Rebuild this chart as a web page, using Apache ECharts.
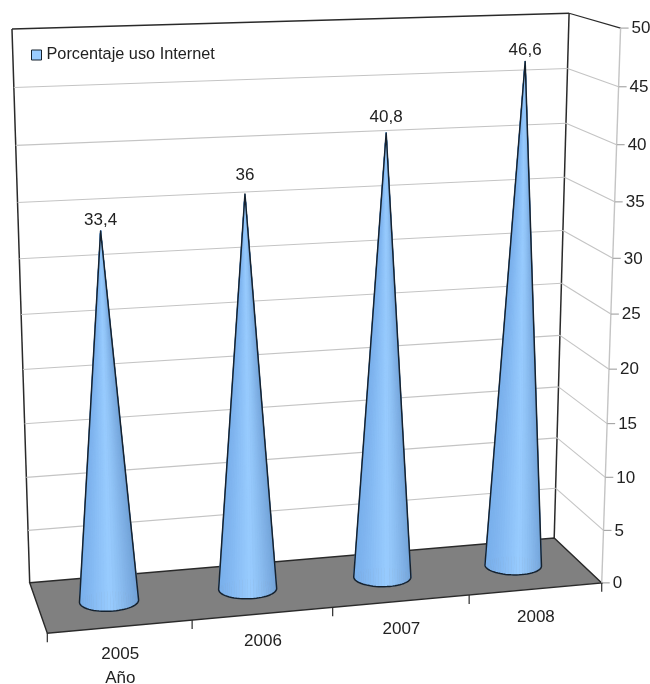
<!DOCTYPE html>
<html>
<head>
<meta charset="utf-8">
<style>html,body{margin:0;padding:0;background:#fff}#chart{width:650px;height:684px}</style>
<script src="https://cdn.jsdelivr.net/npm/echarts@6/dist/echarts.min.js"></script>
</head>
<body>
<div id="chart"></div>
<script>
const years = ['2005', '2006', '2007', '2008'];
const usage = [33.4, 36, 40.8, 46.6];
const valueTicks = [0, 5, 10, 15, 20, 25, 30, 35, 40, 45, 50];
const seriesName = 'Porcentaje uso Internet';
const axisName = 'Año';
// Lift of each value label above its cone's tip, in pixels.
const labelLift = [11, 19, 16, 11];

// Camera anchors for the 3D box: [X, Y, Z, screenX, screenY], Z = 1 is the back wall.
const anchors = [
  [0, 0, 0, 47, 633], [1, 0, 0, 602, 583], [1, 1, 0, 620, 28],
  [0, 0, 1, 30, 583], [1, 0, 1, 554, 538], [0, 1, 1, 12, 29], [1, 1, 1, 569, 13],
  [1, 0.5, 0, 611, 314], [1, 0.2, 0, 605, 477], [1, 0.8, 0, 617, 145], [1, 0.9, 0, 619, 87]
];
const SCALE = 600;

// Least-squares fit of a 3x4 projection matrix with its last entry fixed at 1.
function fitCamera(pts) {
  const rows = [], rhs = [];
  pts.forEach(([X, Y, Z, sx, sy]) => {
    const x = sx / SCALE, y = sy / SCALE;
    rows.push([X, Y, Z, 1, 0, 0, 0, 0, -x * X, -x * Y, -x * Z]); rhs.push(x);
    rows.push([0, 0, 0, 0, X, Y, Z, 1, -y * X, -y * Y, -y * Z]); rhs.push(y);
  });
  const n = 11;
  const A = [];
  for (let i = 0; i < n; i++) {
    A.push(new Array(n + 1).fill(0));
    for (let j = 0; j < n; j++) rows.forEach(r => { A[i][j] += r[i] * r[j]; });
    rows.forEach((r, k) => { A[i][n] += r[i] * rhs[k]; });
  }
  for (let c = 0; c < n; c++) {
    let piv = c;
    for (let r = c + 1; r < n; r++) if (Math.abs(A[r][c]) > Math.abs(A[piv][c])) piv = r;
    [A[c], A[piv]] = [A[piv], A[c]];
    for (let r = 0; r < n; r++) {
      if (r === c) continue;
      const f = A[r][c] / A[c][c];
      for (let k = c; k <= n; k++) A[r][k] -= f * A[c][k];
    }
  }
  return A.map((row, i) => row[n] / row[i]);
}
const cam = fitCamera(anchors);

function project(X, Y, Z) {
  const w = cam[8] * X + cam[9] * Y + cam[10] * Z + 1;
  return [
    SCALE * (cam[0] * X + cam[1] * Y + cam[2] * Z + cam[3]) / w,
    SCALE * (cam[4] * X + cam[5] * Y + cam[6] * Z + cam[7]) / w
  ];
}

// Turns a data pair into box coordinates through the chart's own axes.
function boxCoord(params, api, cat, val) {
  const p = api.coord([cat, val]);
  const cs = params.coordSys;
  return { X: (p[0] - cs.x) / cs.width, Y: 1 - (p[1] - cs.y) / cs.height };
}

const FONT = '17px "Liberation Sans", Arial, sans-serif';
const line = (a, b, stroke, lineWidth) => ({
  type: 'line', silent: true,
  shape: { x1: a[0], y1: a[1], x2: b[0], y2: b[1] },
  style: { stroke, lineWidth }
});
const text = (x, y, str, align) => ({
  type: 'text', silent: true,
  style: { x, y, text: str, fill: '#222', font: FONT, align, verticalAlign: 'middle' }
});

const GRID = '#c4c4c4', EDGE = '#2a2a2a';

function renderBox() {
  const c = {
    bl: project(0, 0, 1), br: project(1, 0, 1), tl: project(0, 1, 1), tr: project(1, 1, 1),
    fl: project(0, 0, 0), fr: project(1, 0, 0), ftr: project(1, 1, 0)
  };
  return {
    type: 'group', children: [
      { type: 'polygon', silent: true, shape: { points: [c.tl, c.tr, c.br, c.bl] }, style: { fill: '#fff' } },
      { type: 'polygon', silent: true, shape: { points: [c.bl, c.br, c.fr, c.fl] }, style: { fill: '#808080', stroke: EDGE, lineWidth: 1.4 } },
      line(c.tl, c.bl, EDGE, 1.5),
      line(c.tl, c.tr, EDGE, 1.5),
      line(c.tr, c.br, EDGE, 1.5),
      line(c.tr, c.ftr, EDGE, 1.2),
      line(c.ftr, c.fr, GRID, 1.4)
    ]
  };
}

function renderValueTick(params, api) {
  const v = api.value(1);
  const Y = boxCoord(params, api, 0, v).Y;
  const back0 = project(0, Y, 1), back1 = project(1, Y, 1), front = project(1, Y, 0);
  const children = [line([front[0], front[1]], [front[0] + 8, front[1]], '#a8a8a8', 1.2)];
  if (v > 0 && v < 50) {
    children.push(line(back0, back1, GRID, 1.1), line(back1, front, GRID, 1.1));
  }
  children.push(text(front[0] + 11, front[1] + 0.5, String(v), 'left'));
  return { type: 'group', children };
}

function renderCategory(params, api) {
  const i = api.value(0);
  const X = boxCoord(params, api, i, 0).X;
  const half = api.size([1, 0])[0] / params.coordSys.width / 2;
  const mid = project(X, 0, 0), left = project(X - half, 0, 0), right = project(X + half, 0, 0);
  const children = [
    line(left, [left[0], left[1] + 9], EDGE, 1.2),
    text(mid[0], mid[1] + 28, years[i], 'center')
  ];
  if (i === years.length - 1) children.push(line(right, [right[0], right[1] + 9], EDGE, 1.2));
  if (i === 0) children.push(text(mid[0], mid[1] + 52, axisName, 'center'));
  return { type: 'group', children };
}

// Monotone-chain hull, used for the cone's outline.
function hull(pts) {
  const s = pts.slice().sort((a, b) => a[0] - b[0] || a[1] - b[1]);
  const cross = (o, a, b) => (a[0] - o[0]) * (b[1] - o[1]) - (a[1] - o[1]) * (b[0] - o[0]);
  const lo = [], up = [];
  s.forEach(p => { while (lo.length > 1 && cross(lo[lo.length - 2], lo[lo.length - 1], p) <= 0) lo.pop(); lo.push(p); });
  s.slice().reverse().forEach(p => { while (up.length > 1 && cross(up[up.length - 2], up[up.length - 1], p) <= 0) up.pop(); up.push(p); });
  return lo.slice(0, -1).concat(up.slice(0, -1));
}

const shadeStops = [[0, [122, 176, 236]], [0.45, [153, 204, 255]], [1, [110, 158, 212]]];
function shade(s) {
  for (let k = 1; k < shadeStops.length; k++) {
    if (s <= shadeStops[k][0]) {
      const [a, ca] = shadeStops[k - 1], [b, cb] = shadeStops[k];
      const f = (s - a) / (b - a);
      return 'rgb(' + ca.map((c, j) => Math.round(c + (cb[j] - c) * f)).join(',') + ')';
    }
  }
  return '#6e9ed4';
}

const CONE_RX = 0.052, CONE_RZ = 0.2, CONE_Z = 0.5, FACETS = 64;

function renderCone(params, api) {
  const i = api.value(0), v = api.value(1);
  const top = boxCoord(params, api, i, v);
  const base = boxCoord(params, api, i, 0);
  const apex = project(top.X, top.Y, CONE_Z);
  const ring = [];
  for (let k = 0; k < FACETS; k++) {
    const a = k / FACETS * Math.PI * 2;
    ring.push({ a, z: CONE_Z + CONE_RZ * Math.sin(a), p: project(base.X + CONE_RX * Math.cos(a), 0, CONE_Z + CONE_RZ * Math.sin(a)) });
  }
  const order = ring.map((_, k) => k).sort((p, q) => ring[q].z - ring[p].z);
  const children = order.map(k => {
    const r0 = ring[k], r1 = ring[(k + 1) % FACETS];
    const col = shade((Math.cos(r0.a + Math.PI / FACETS) + 1) / 2);
    return {
      type: 'polygon', silent: true,
      shape: { points: [apex, r0.p, r1.p] },
      style: { fill: col, stroke: col, lineWidth: 0.6 }
    };
  });
  children.push({
    type: 'polygon', silent: true,
    shape: { points: hull(ring.map(r => r.p).concat([apex])) },
    style: { fill: 'none', stroke: '#16222e', lineWidth: 1.5, lineJoin: 'round' }
  });
  children.push(text(apex[0], apex[1] - labelLift[i], String(v).replace('.', ','), 'center'));
  return { type: 'group', children };
}

const chart = echarts.init(document.getElementById('chart'), null, { renderer: 'canvas' });
chart.setOption({
  animation: false,
  backgroundColor: '#fff',
  grid: { left: 100, right: 100, top: 100, bottom: 100 },
  xAxis: { type: 'category', data: years, show: false },
  yAxis: { type: 'value', min: 0, max: 50, interval: 5, show: false },
  legend: {
    left: 31, top: 47, padding: 0, orient: 'vertical', itemWidth: 10, itemHeight: 10, itemGap: 0,
    data: [{ name: seriesName, icon: 'rect', itemStyle: { color: '#99ccff', borderColor: '#16222e', borderWidth: 1 } }],
    selectedMode: false,
    textStyle: { fontFamily: '"Liberation Sans", Arial, sans-serif', fontSize: 16.3, color: '#222' }
  },
  series: [
    { type: 'custom', name: 'box', z: 1, silent: true, data: [[0, 0]], encode: { x: 0, y: 1 }, renderItem: renderBox },
    { type: 'custom', name: 'ticks', z: 2, silent: true, data: valueTicks.map(v => [0, v]), encode: { x: 0, y: 1 }, renderItem: renderValueTick },
    { type: 'custom', name: 'categories', z: 3, silent: true, data: years.map((_, i) => [i, 0]), encode: { x: 0, y: 1 }, renderItem: renderCategory },
    { type: 'custom', name: seriesName, z: 4, silent: true, itemStyle: { color: '#99ccff' }, data: usage.map((v, i) => [i, v]), encode: { x: 0, y: 1 }, renderItem: renderCone }
  ]
});
</script>
</body>
</html>
